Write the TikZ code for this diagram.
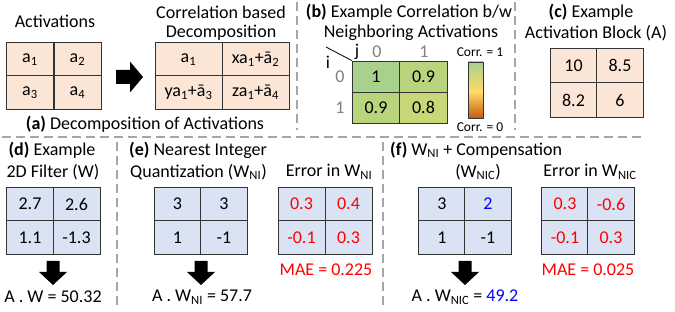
\documentclass[tikz,border=0pt]{standalone}
\usepackage{fontspec}
\setmainfont{Carlito}
\begin{document}
\begin{tikzpicture}[x=1pt,y=-1pt,
  every node/.style={inner sep=0pt, font=\fontsize{18}{21}\selectfont},
  cell/.style={draw=black!80, line width=0.9pt, minimum width=47pt, minimum height=33.5pt},
  peach/.style={cell, fill=peachc},
  blu/.style={cell, fill=bluec},
  corr/.style={cell, minimum width=47.5pt, minimum height=31pt},
  small/.style={font=\fontsize{13.5}{15}\selectfont},
  idx/.style={text=idxc},
  sep/.style={draw=sepc, line width=1.3pt, dash pattern=on 9pt off 5pt},
  blockarrow/.style={fill=black},
  red/.style={text=errc},
]
\definecolor{peachc}{HTML}{FBE5D6}
\definecolor{bluec}{HTML}{DAE3F3}
\definecolor{sepc}{HTML}{A6A6A6}
\definecolor{idxc}{HTML}{808080}
\definecolor{errc}{HTML}{FF0000}
\definecolor{bluetxt}{HTML}{0000FF}
\definecolor{g00}{HTML}{A9D18E}
\definecolor{g01}{HTML}{B8D57E}
\definecolor{g11}{HTML}{C8D878}
\definecolor{cbmid}{HTML}{FFD966}
\definecolor{cbbot}{HTML}{C55A11}
\useasboundingbox (0,0) rectangle (675,312);

% separators
\coordinate (s1a) at (297,2); \coordinate (s1b) at (297,130);
\coordinate (s2a) at (515,2); \coordinate (s2b) at (515,130);
\coordinate (h1a) at (2,137); \coordinate (h1b) at (645,137);
\coordinate (s3a) at (117,142); \coordinate (s3b) at (117,306);
\coordinate (s4a) at (383,142); \coordinate (s4b) at (383,306);
\draw[sep] (s1a) -- (s1b);
\draw[sep] (s2a) -- (s2b);
\draw[sep] (h1a) -- (h1b);
\draw[sep] (s3a) -- (s3b);
\draw[sep] (s4a) -- (s4b);

% ---------- (a)
\node (actT) at (55,21) {Activations};
\node[peach] (a1) at (30,59.5) {a\textsubscript{1}};
\node[peach] (a2) at (77.5,59.5) {a\textsubscript{2}};
\node[peach] (a3) at (30,92.5) {a\textsubscript{3}};
\node[peach] (a4) at (77.5,92.5) {a\textsubscript{4}};
\fill[blockarrow] (116,70) -- (130,70) -- (130,61.5) -- (143,77) -- (130,92.5) -- (130,84) -- (116,84) -- cycle;
\node (corT1) at (221,12) {Correlation based};
\node (corT2) at (221,33) {Decomposition};
\node[peach, minimum width=67pt] (d1) at (188.5,59.5) {a\textsubscript{1}};
\node[peach, minimum width=67pt] (d2) at (255.5,59.5) {xa\textsubscript{1}+ā\textsubscript{2}};
\node[peach, minimum width=67pt] (d3) at (188.5,92.5) {ya\textsubscript{1}+ā\textsubscript{3}};
\node[peach, minimum width=67pt] (d4) at (255.5,92.5) {za\textsubscript{1}+ā\textsubscript{4}};
\node (capA) at (145,124) {\textbf{(a)} Decomposition of Activations};

% ---------- (b)
\node (bT1) at (409,12) {\textbf{(b)} Example Correlation b/w};
\node (bT2) at (411,33) {Neighboring Activations};
\node[corr, fill=g00] (c00) at (376,76.5) {1};
\node[corr, fill=g01] (c01) at (423.5,76.5) {0.9};
\node[corr, fill=g01] (c10) at (376,107.5) {0.9};
\node[corr, fill=g11] (c11) at (423.5,107.5) {0.8};
\coordinate (diagA) at (326,47);
\draw[line width=0.8pt] (diagA) -- (c00.north west);
\node (ilab) at (328,62) {i};
\node (jlab) at (357,52) {j};
\node[idx] (col0) at (377,52) {0};
\node[idx] (col1) at (424,52) {1};
\node[idx] (row0) at (340,77) {0};
\node[idx] (row1) at (340,108) {1};
\node[small] (c1lab) at (480,52) {Corr. = 1};
\node[small] (c0lab) at (480,127) {Corr. = 0};
\shade[top color=g00, bottom color=cbmid] (468,62) rectangle (483,92);
\shade[top color=cbmid, bottom color=cbbot] (468,92) rectangle (483,118);
\node[draw=black!80, line width=0.8pt, minimum width=15pt, minimum height=56pt] (cbar) at (475.5,90) {};

% ---------- (c)
\node (cT1) at (591,12) {\textbf{(c)} Example};
\node (cT2) at (596,33) {Activation Block (A)};
\node[peach, minimum height=35pt] (b1) at (573.5,65.5) {10};
\node[peach, minimum height=35pt] (b2) at (620,65.5) {8.5};
\node[peach, minimum height=35pt] (b3) at (573.5,100) {8.2};
\node[peach, minimum height=35pt] (b4) at (620,100) {6};

% ---------- (d)
\node (dT1) at (52,150) {\textbf{(d)} Example};
\node (dT2) at (53,172) {2D Filter (W)};
\node[blu] (w1) at (30,204) {2.7};
\node[blu] (w2) at (76.5,204) {2.6};
\node[blu] (w3) at (30,237.5) {1.1};
\node[blu] (w4) at (76.5,237.5) {-1.3};
\fill[blockarrow] (46.5,261) -- (59.5,261) -- (59.5,272) -- (67,272) -- (53,285) -- (39,272) -- (46.5,272) -- cycle;
\node (dres) at (53,297) {A . W = 50.32};

% ---------- (e)
\node[anchor=west] (eT1) at (129,150) {\textbf{(e)} Nearest Integer};
\node[anchor=west] (eT2) at (130,172) {Quantization (W\textsubscript{NI})};
\node[blu] (q1) at (177.5,204) {3};
\node[blu] (q2) at (224,204) {3};
\node[blu] (q3) at (177.5,237.5) {1};
\node[blu] (q4) at (224,237.5) {-1};
\fill[blockarrow] (194.5,261) -- (207.5,261) -- (207.5,272) -- (215,272) -- (201,285) -- (187,272) -- (194.5,272) -- cycle;
\node (eres) at (202,297) {A . W\textsubscript{NI} = 57.7};
\node (e1T) at (329,172) {Error in W\textsubscript{NI}};
\node[blu, red] (e1) at (301.5,204) {0.3};
\node[blu, red] (e2) at (348.5,204) {0.4};
\node[blu, red] (e3) at (301.5,237.5) {-0.1};
\node[blu, red] (e4) at (348.5,237.5) {0.3};
\node[red] (mae1) at (326,270) {MAE = 0.225};

% ---------- (f)
\node[anchor=west] (fT1) at (390,150) {\textbf{(f)} W\textsubscript{NI} + Compensation};
\node (fT2) at (478,172) {(W\textsubscript{NIC})};
\node[blu] (f1) at (442,204) {3};
\node[blu, text=bluetxt] (f2) at (488,204) {2};
\node[blu] (f3) at (442,237.5) {1};
\node[blu] (f4) at (488,237.5) {-1};
\fill[blockarrow] (458.5,261) -- (471.5,261) -- (471.5,272) -- (479,272) -- (465,285) -- (451,272) -- (458.5,272) -- cycle;
\node (fres) at (465,297) {A . W\textsubscript{NIC} = \textcolor{bluetxt}{49.2}};
\node (e2T) at (590,172) {Error in W\textsubscript{NIC}};
\node[blu, red] (g1) at (565,204) {0.3};
\node[blu, red] (g2) at (611,204) {-0.6};
\node[blu, red] (g3) at (565,237.5) {-0.1};
\node[blu, red] (g4) at (611,237.5) {0.3};
\node[red] (mae2) at (588,270) {MAE = 0.025};
\end{tikzpicture}
\end{document}
